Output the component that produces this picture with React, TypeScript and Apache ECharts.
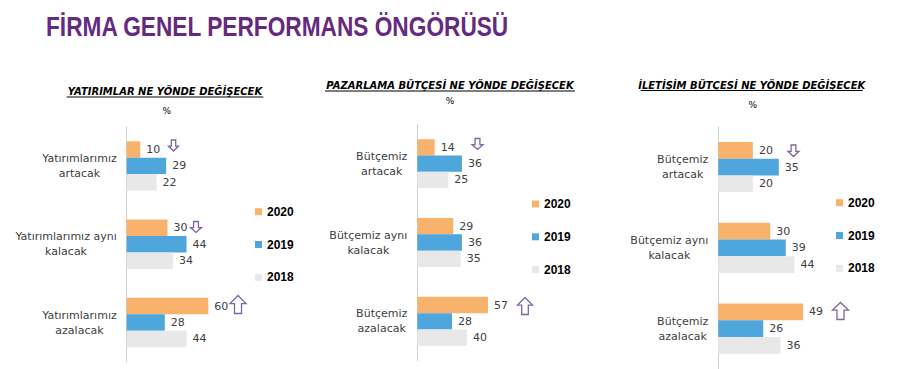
import React, { useEffect, useRef } from "react";
import * as echarts from "echarts";

const mainTitle = "FİRMA GENEL PERFORMANS ÖNGÖRÜSÜ";
const panelTitles = [
  "YATIRIMLAR NE YÖNDE DEĞİŞECEK",
  "PAZARLAMA BÜTÇESİ NE YÖNDE DEĞİŞECEK",
  "İLETİŞİM BÜTÇESİ NE YÖNDE DEĞİŞECEK",
];
const years = ["2020", "2019", "2018"];

const invCategories = ["Yatırımlarımız\nartacak", "Yatırımlarımız aynı\nkalacak", "Yatırımlarımız\nazalacak"];
const budgetCategories = ["Bütçemiz\nartacak", "Bütçemiz aynı\nkalacak", "Bütçemiz\nazalacak"];

const inv2020 = [10, 30, 60];
const inv2019 = [29, 44, 28];
const inv2018 = [22, 34, 44];

const mkt2020 = [14, 29, 57];
const mkt2019 = [36, 36, 28];
const mkt2018 = [25, 35, 40];

const com2020 = [20, 30, 49];
const com2019 = [35, 39, 26];
const com2018 = [20, 44, 36];

const colors = ["#F9B26B", "#4EA6DC", "#E8E8E8"];
const FONT = "'DejaVu Sans', sans-serif";
const ARROW = "#8064A2";

function arrow(x: number, y: number, w: number, h: number, dir: "up" | "down") {
  const s0 = x + w * 0.28;
  const s1 = x + w * 0.72;
  const head = h * 0.45;
  let pts: number[][];
  if (dir === "down") {
    pts = [
      [s0, y], [s1, y], [s1, y + h - head], [x + w, y + h - head],
      [x + w / 2, y + h], [x, y + h - head], [s0, y + h - head],
    ];
  } else {
    pts = [
      [x + w / 2, y], [x + w, y + head], [s1, y + head], [s1, y + h],
      [s0, y + h], [s0, y + head], [x, y + head],
    ];
  }
  return {
    type: "polygon",
    shape: { points: pts },
    style: { fill: "#fff", stroke: ARROW, lineWidth: 1.3 },
    silent: true,
  };
}

export default function App() {
  const ref = useRef<HTMLDivElement>(null);
  useEffect(() => {
    document.body.style.margin = "0";
    const chart = echarts.init(ref.current!, null, { renderer: "svg" });

    const grids = [
      { left: 126.7, top: 126.7, width: 136, height: 235 },
      { left: 417.3, top: 124.3, width: 124, height: 236.4 },
      { left: 718.3, top: 126.7, width: 173, height: 243.6 },
    ];
    const cats = [invCategories, budgetCategories, budgetCategories];
    const data = [
      [inv2020, inv2019, inv2018],
      [mkt2020, mkt2019, mkt2018],
      [com2020, com2019, com2018],
    ];
    const gaps = ["37%", "38%", "38%"];

    const series: any[] = [];
    data.forEach((panel, pi) => {
      panel.forEach((vals, si) => {
        series.push({
          type: "bar",
          name: years[si],
          xAxisIndex: pi,
          yAxisIndex: pi,
          data: vals,
          barGap: "0%",
          barCategoryGap: gaps[pi],
          itemStyle: { color: colors[si] },
          label: {
            show: true,
            position: "right",
            distance: 6,
            fontFamily: FONT,
            fontSize: 11,
            color: "#404040",
          },
        });
      });
    });

    const legendPos = [
      { left: 255, top: 204.7 },
      { left: 532, top: 197 },
      { left: 836, top: 195.7 },
    ];

    const titlePos = [
      { x: 165, y: 91.7, u0: 66.7, u1: 263.3, uy: 97 },
      { x: 450, y: 85.7, u0: 325, u1: 575, uy: 91 },
      { x: 751.7, y: 85, u0: 640.7, u1: 862.7, uy: 90.5 },
    ];
    const pctPos = [
      { x: 166.7, y: 111 },
      { x: 450, y: 101 },
      { x: 752.7, y: 105 },
    ];

    const graphics: any[] = [
      {
        type: "text",
        x: 46,
        y: 26.5,
        scaleX: 0.81,
        style: {
          text: mainTitle,
          fontFamily: "'Liberation Sans', Arial, sans-serif",
          fontWeight: "bold",
          fontSize: 28,
          fill: "#652A80",
          verticalAlign: "middle",
        },
      },
    ];
    titlePos.forEach((p, i) => {
      graphics.push({
        type: "text",
        x: p.x,
        y: p.y,
        style: {
          text: panelTitles[i],
          fontFamily: FONT,
          fontWeight: "bold",
          fontStyle: "italic",
          fontSize: 10,
          fill: "#000",
          align: "center",
          verticalAlign: "middle",
        },
      });
      graphics.push({
        type: "line",
        shape: { x1: p.u0, y1: p.uy, x2: p.u1, y2: p.uy },
        style: { stroke: "#000", lineWidth: 1 },
      });
      graphics.push({
        type: "text",
        x: pctPos[i].x,
        y: pctPos[i].y,
        style: {
          text: "%",
          fontFamily: FONT,
          fontSize: 9,
          fill: "#000",
          align: "center",
          verticalAlign: "middle",
        },
      });
    });
    graphics.push(arrow(168.5, 140, 10, 11, "down"));
    graphics.push(arrow(190.5, 221.5, 11, 11, "down"));
    graphics.push(arrow(230, 295.5, 16, 18, "up"));
    graphics.push(arrow(472, 138.5, 11, 11, "down"));
    graphics.push(arrow(517.5, 297.5, 15, 17, "up"));
    graphics.push(arrow(788, 145, 11, 11.5, "down"));
    graphics.push(arrow(832.5, 302.5, 16, 17, "up"));

    chart.setOption({
      animation: false,
      grid: grids.map((g) => ({ ...g, containLabel: false })),
      xAxis: grids.map((_, i) => ({
        type: "value",
        gridIndex: i,
        min: 0,
        max: 100,
        show: false,
      })),
      yAxis: grids.map((_, i) => ({
        type: "category",
        gridIndex: i,
        data: cats[i],
        inverse: true,
        axisLine: { show: true, lineStyle: { color: "#D0D0D0", width: 1 } },
        axisTick: { show: false },
        axisLabel: {
          margin: 10,
          formatter: (v: string) => v.split("\n").map((l) => `{c|${l}}`).join("\n"),
          rich: {
            c: {
              align: "center",
              fontFamily: FONT,
              fontSize: 11,
              lineHeight: 15,
              color: "#404040",
            },
          },
        },
      })),
      legend: legendPos.map((p) => ({
        ...p,
        padding: 0,
        orient: "vertical",
        data: years,
        icon: "rect",
        itemWidth: 7,
        itemHeight: 7,
        itemGap: 18.8,
        selectedMode: false,
        textStyle: {
          fontFamily: "'Liberation Sans', Arial, sans-serif",
          fontWeight: "bold",
          fontSize: 12,
          lineHeight: 14,
          color: "#000",
        },
      })),
      series,
      graphic: graphics,
    });
    return () => chart.dispose();
  }, []);
  return <div ref={ref} style={{ width: 899, height: 369 }} />;
}
